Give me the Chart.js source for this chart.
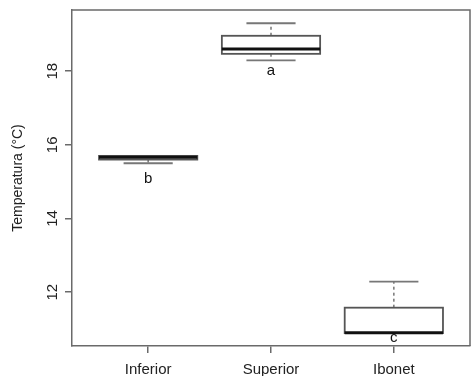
<!DOCTYPE html>
<html>
<head>
<meta charset="utf-8">
<script src="https://cdn.jsdelivr.net/npm/chart.js@4"></script>
<style>
  html, body { margin: 0; padding: 0; background: #fff; }
  #wrap { width: 471px; height: 376px; }
</style>
</head>
<body>
<div id="wrap"><canvas id="boxChart" width="471" height="376"></canvas></div>
<script>
// values
const categories = ["Inferior", "Superior", "Ibonet"];
const whiskerLow = [15.50, 18.29, 10.89];
const q1 = [15.60, 18.47, 10.89];
const medians = [15.66, 18.60, 10.90];
const q3 = [15.70, 18.96, 11.58];
const whiskerHigh = [15.70, 19.30, 12.29];
const letters = ["b", "a", "c"];
const letterY = [15.08, 18.02, 10.75];
const yTicks = [12, 14, 16, 18];

const FONT = "'Liberation Sans', Arial, sans-serif";
const frameColor = "#6a6a6a";

const boxPlugin = {
  id: "boxes",
  beforeDraw(chart) {
    const c = chart.ctx;
    c.save();
    c.fillStyle = "#fff";
    c.fillRect(0, 0, chart.width, chart.height);
    c.restore();
  },
  afterDraw(chart) {
    const c = chart.ctx;
    const x = chart.scales.x;
    const y = chart.scales.y;
    const area = chart.chartArea;

    c.save();
    // top and right parts of the frame
    c.strokeStyle = frameColor;
    c.lineWidth = 1.5;
    c.beginPath();
    c.moveTo(area.left, area.top);
    c.lineTo(area.right, area.top);
    c.lineTo(area.right, area.bottom);
    c.stroke();

    categories.forEach((cat, i) => {
      const cx = x.getPixelForValue(i + 1);
      const bl = x.getPixelForValue(i + 1 - 0.4);
      const br = x.getPixelForValue(i + 1 + 0.4);
      const sl = x.getPixelForValue(i + 1 - 0.2);
      const sr = x.getPixelForValue(i + 1 + 0.2);
      const yLo = y.getPixelForValue(whiskerLow[i]);
      const yQ1 = y.getPixelForValue(q1[i]);
      const yMed = y.getPixelForValue(medians[i]);
      const yQ3 = y.getPixelForValue(q3[i]);
      const yHi = y.getPixelForValue(whiskerHigh[i]);

      // whiskers (dashed)
      c.strokeStyle = "#777";
      c.lineWidth = 1.5;
      c.setLineDash([3, 3]);
      c.beginPath();
      if (yHi < yQ3) { c.moveTo(cx, yQ3); c.lineTo(cx, yHi); }
      if (yLo > yQ1) { c.moveTo(cx, yQ1); c.lineTo(cx, yLo); }
      c.stroke();
      c.setLineDash([]);

      // staples
      c.strokeStyle = "#777";
      c.lineWidth = 1.8;
      c.beginPath();
      c.moveTo(sl, yHi); c.lineTo(sr, yHi);
      c.moveTo(sl, yLo); c.lineTo(sr, yLo);
      c.stroke();

      // box
      c.fillStyle = "#fff";
      c.fillRect(bl, yQ3, br - bl, yQ1 - yQ3);
      c.strokeStyle = "#555";
      c.lineWidth = 1.8;
      c.strokeRect(bl, yQ3, br - bl, yQ1 - yQ3);

      // median
      c.strokeStyle = "#111";
      c.lineWidth = 3;
      c.beginPath();
      c.moveTo(bl, yMed); c.lineTo(br, yMed);
      c.stroke();

      // significance letter
      c.fillStyle = "#111";
      c.font = "15px " + FONT;
      c.textAlign = "center";
      c.textBaseline = "middle";
      c.fillText(letters[i], cx, y.getPixelForValue(letterY[i]));
    });

    // y tick labels, rotated like R
    c.fillStyle = "#222";
    c.font = "15px " + FONT;
    c.textAlign = "center";
    c.textBaseline = "middle";
    yTicks.forEach(v => {
      c.save();
      c.translate(53, y.getPixelForValue(v));
      c.rotate(-Math.PI / 2);
      c.fillText(String(v), 0, 0);
      c.restore();
    });

    // y axis title
    c.save();
    c.translate(18, (area.top + area.bottom) / 2);
    c.rotate(-Math.PI / 2);
    c.font = "14px " + FONT;
    c.fillText("Temperatura (°C)", 0, 0);
    c.restore();

    c.restore();
  }
};

new Chart(document.getElementById("boxChart"), {
  type: "scatter",
  data: { datasets: [{ data: [] }] },
  plugins: [boxPlugin],
  options: {
    responsive: false,
    animation: false,
    layout: { padding: { top: 10, right: 1, left: 0, bottom: 0 } },
    plugins: { legend: { display: false }, tooltip: { enabled: false } },
    scales: {
      x: {
        type: "linear",
        min: 0.38,
        max: 3.62,
        afterBuildTicks: s => { s.ticks = [1, 2, 3].map(v => ({ value: v })); },
        afterFit: s => { s.height = 30; },
        ticks: {
          callback: v => categories[v - 1],
          font: { size: 15, family: FONT },
          color: "#222",
          padding: 8,
          maxRotation: 0
        },
        grid: { drawOnChartArea: false, tickLength: 7, color: frameColor, lineWidth: 1.5 },
        border: { color: frameColor, width: 1.5 }
      },
      y: {
        min: 10.54,
        max: 19.66,
        afterBuildTicks: s => { s.ticks = yTicks.map(v => ({ value: v })); },
        afterFit: s => { s.width = 72; },
        ticks: { display: false },
        grid: { drawOnChartArea: false, tickLength: 7, color: frameColor, lineWidth: 1.5 },
        border: { color: frameColor, width: 1.5 }
      }
    }
  }
});
</script>
</body>
</html>
